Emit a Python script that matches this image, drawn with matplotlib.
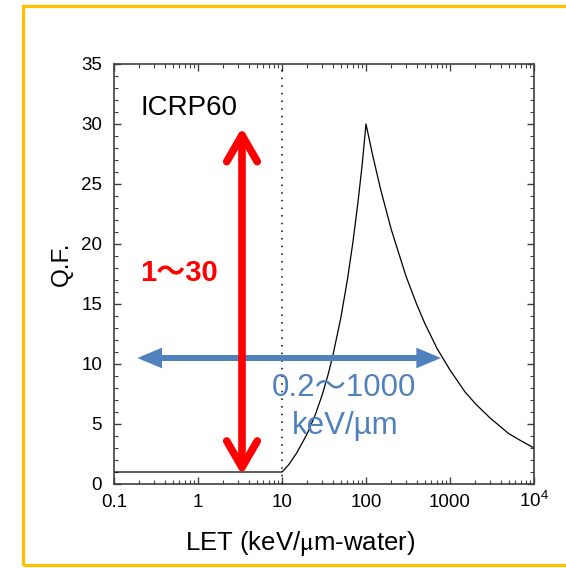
import matplotlib
matplotlib.use('Agg')
import matplotlib.pyplot as plt
from matplotlib.patches import FancyArrowPatch, Rectangle
from matplotlib.ticker import MultipleLocator, LogLocator, NullFormatter

plt.rcParams['font.family'] = ['Liberation Sans', 'Noto Sans CJK JP', 'DejaVu Sans']
plt.rcParams['mathtext.fontset'] = 'stix'
plt.rcParams['xtick.labelsize'] = 13.5
plt.rcParams['ytick.labelsize'] = 13.5

# ICRP60 quality factor
let = [0.1, 10, 12, 15, 20, 25, 30, 35, 40, 50, 60, 70, 80, 90, 100,
       120, 150, 200, 300, 400, 500, 700, 1000, 1500, 2000, 3000, 5000, 7000, 10000]
qf = [1.0, 1.0, 1.6, 2.6, 4.2, 5.8, 7.4, 9.0, 10.6, 13.8, 17.0, 20.2, 23.4, 26.6, 30.0,
      27.4, 24.5, 21.2, 17.3, 15.0, 13.4, 11.3, 9.5, 7.7, 6.7, 5.5, 4.2, 3.6, 3.0]

xticks = [0.1, 1, 10, 100, 1000, 10000]
xticklabels = ['0.1', '1', '10', '100', '1000', r'$\mathregular{10^4}$']
yticks = [0, 5, 10, 15, 20, 25, 30, 35]

qf_range = (0.75, 29.7)   # red arrow, at LET ~3.3
let_range = (0.19, 780)   # blue arrow, at Q ~10.5

red = '#FF0000'
blue = '#4F81BD'
axcol = '#404040'

fig = plt.figure(figsize=(5.66, 5.68), dpi=100)
ax = fig.add_axes([114/566, 1 - 484/568, 420/566, 420/568])

ax.plot(let, qf, color='black', lw=0.9)
ax.axvline(10, color='black', lw=1.1, ls=(0, (1, 4)))

ax.set_xscale('log')
ax.set_xlim(0.1, 10000)
ax.set_ylim(0, 35)
ax.set_xticks(xticks, xticklabels)
ax.xaxis.set_minor_locator(LogLocator(base=10, subs=range(2, 10), numticks=20))
ax.xaxis.set_minor_formatter(NullFormatter())
ax.set_yticks(yticks)
ax.yaxis.set_minor_locator(MultipleLocator(1))

for s in ax.spines.values():
    s.set_color(axcol)
    s.set_linewidth(1.2)
ax.tick_params(which='both', direction='in', top=True, right=True, color=axcol)
ax.tick_params(which='major', length=5, width=1)
ax.tick_params(which='minor', length=3, width=0.8)
ax.tick_params(axis='y', pad=8.5)
ax.tick_params(axis='x', pad=16.5)
for lab in ax.get_xticklabels():
    lab.set_va('baseline')

ax.text(0.205, 31.3, 'ICRP60', fontsize=20, va='center', ha='left')
ax.text(0.205, 17.6, '1～30', fontsize=21, color=red, fontweight='bold', va='center', ha='left')
ax.text(55, 8.0, '0.2～1000', fontsize=22.5, color=blue, ha='center', va='center')
ax.text(56, 4.85, 'keV/µm', fontsize=22.5, color=blue, ha='center', va='center')

red_arrow = FancyArrowPatch((3.34, qf_range[0]), (3.34, qf_range[1]),
                            arrowstyle='<->,head_length=19,head_width=11',
                            color=red, lw=5.5, shrinkA=0, shrinkB=0,
                            capstyle='round', joinstyle='round', zorder=4)
ax.add_patch(red_arrow)

blue_arrow = FancyArrowPatch((let_range[0], 10.5), (let_range[1], 10.5),
                             arrowstyle='<|-|>,head_length=10,head_width=4.2',
                             color=blue, lw=4.3, shrinkA=0, shrinkB=0,
                             joinstyle='miter', zorder=3)
ax.add_patch(blue_arrow)

fig.text(62/566, 1 - 264/568, 'Q.F.', rotation=90, fontsize=17.5, ha='center', va='center')
fig.text(300/566, 1 - 544/568, r'LET (keV/$\mathrm{\mu}$m-water)', fontsize=18.5,
         ha='center', va='center')

fig.patches.append(Rectangle((23.5/566, 3/568), 1.0, 1 - 8.5/568, transform=fig.transFigure,
                             fill=False, edgecolor='#FFC000', lw=2.3, clip_on=False))

fig.savefig('out.png', dpi=100)
